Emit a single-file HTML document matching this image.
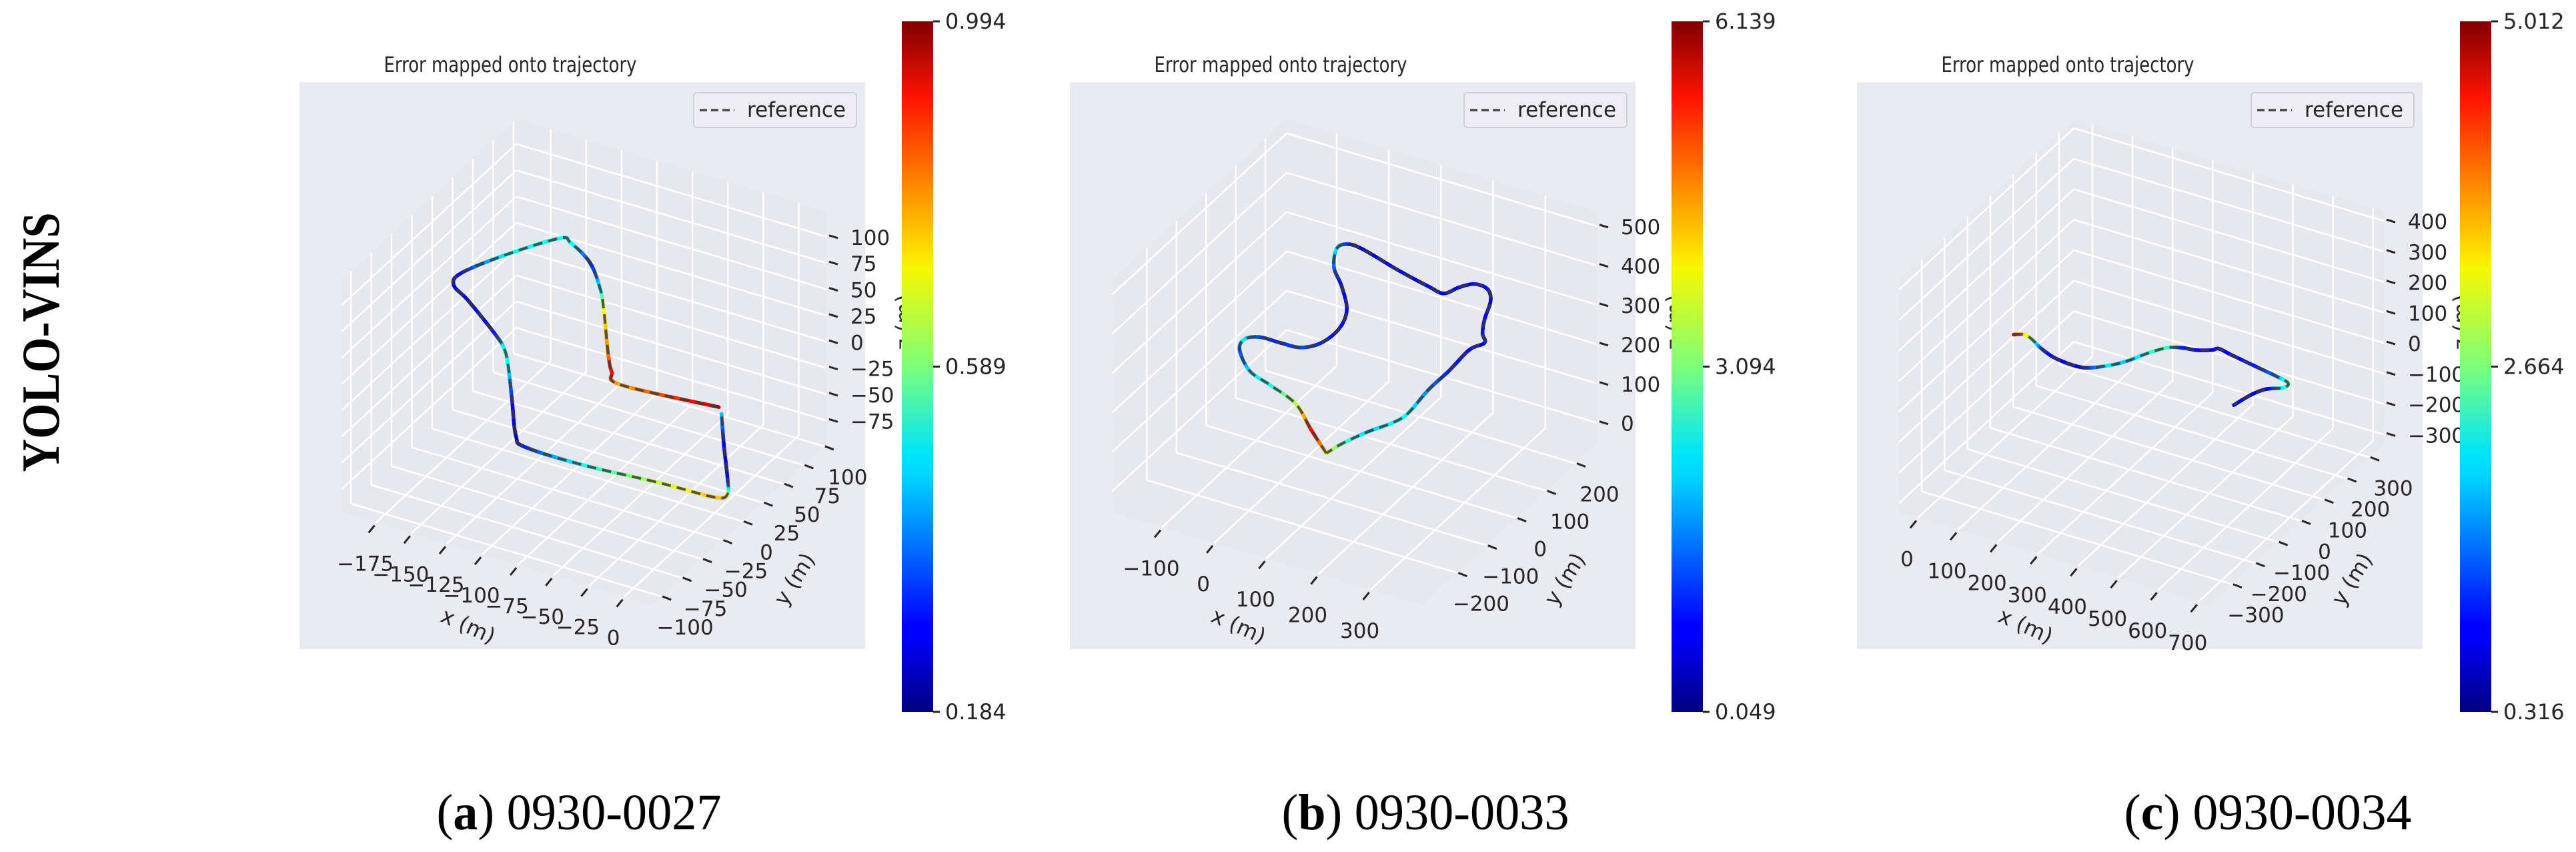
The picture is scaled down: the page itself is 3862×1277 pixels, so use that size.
<!DOCTYPE html>
<html><head><meta charset="utf-8"><style>
html,body{margin:0;padding:0;background:#fff;}
svg{display:block;}
text{font-family:"DejaVu Sans","Liberation Sans",sans-serif;}
</style></head><body>
<svg id="fig" xmlns="http://www.w3.org/2000/svg" width="3862" height="1277" viewBox="0 0 3862 1277">
<defs>
<linearGradient id="jetGrad" x1="0" y1="1" x2="0" y2="0">
<stop offset="0" stop-color="#00007f"/><stop offset="0.11" stop-color="#0000ff"/>
<stop offset="0.125" stop-color="#0000ff"/><stop offset="0.34" stop-color="#00d4ff"/>
<stop offset="0.375" stop-color="#00e5f7"/><stop offset="0.5" stop-color="#7dff7a"/>
<stop offset="0.64" stop-color="#f4f802"/><stop offset="0.66" stop-color="#ffe600"/>
<stop offset="0.89" stop-color="#ff1300"/><stop offset="1" stop-color="#7f0000"/>
</linearGradient>
</defs>
<text transform="translate(88,513) rotate(-90)" text-anchor="middle" font-weight="bold" font-size="80" textLength="389" lengthAdjust="spacingAndGlyphs" style="font-family:'Liberation Serif',serif">YOLO-VINS</text>
<text x="868" y="1243" text-anchor="middle" font-size="76" textLength="427" lengthAdjust="spacingAndGlyphs" style="font-family:'Liberation Serif',serif">(<tspan font-weight="bold">a</tspan>) 0930-0027</text>
<text x="2137" y="1243" text-anchor="middle" font-size="76" textLength="431" lengthAdjust="spacingAndGlyphs" style="font-family:'Liberation Serif',serif">(<tspan font-weight="bold">b</tspan>) 0930-0033</text>
<text x="3400" y="1243" text-anchor="middle" font-size="76" textLength="431" lengthAdjust="spacingAndGlyphs" style="font-family:'Liberation Serif',serif">(<tspan font-weight="bold">c</tspan>) 0930-0034</text>
</svg>
<script>
// ---------- data: panel a (0930-0027) ----------
const aXRange = [-199.3, 19.5];
const aYRange = [-111.6, 103.4];
const aZRange = [-97, 124];
const aXTicks = [-175, -150, -125, -100, -75, -50, -25, 0];
const aYTicks = [-100, -75, -50, -25, 0, 25, 50, 75, 100];
const aZTicks = [-75, -50, -25, 0, 25, 50, 75, 100];
const aTrajX = [-0.1,-64.9,-77.7,-91.3,-116.5,-131.3,-152.2,-174.1,-182.2,-200.5,-214.6,-212.0,-195.3,-161.8,-147.8,-135.4,-114.2,-91.6,-80.0,-39.2,11.9,49.8,54.6,45.6,24.4,5.2];
const aTrajY = [5.3,-1.8,8.7,27.8,66.9,88.2,111.9,126.2,127.5,96.5,63.4,48.5,37.2,11.7,-1.0,-17.8,-50.2,-84.8,-93.2,-93.8,-88.7,-86.6,-79.4,-63.8,-31.3,-0.7];
const aTrajZ = 0;
const aErr = [0.95,0.75,0.9,0.8,0.7,0.5,0.3,0.5,0.5,0.5,0.3,0.25,0.25,0.3,0.5,0.5,0.3,0.22,0.3,0.5,0.65,0.75,0.7,0.3,0.25,0.45];
const aCbar = [0.184, 0.589, 0.994];
const aCbarLabels = ["0.184", "0.589", "0.994"];

// ---------- data: panel b (0930-0033) ----------
const bXRange = [-196, 399];
const bYRange = [-318, 272];
const bZRange = [-53, 537];
const bXTicks = [-100, 0, 100, 200, 300];
const bYTicks = [-200, -100, 0, 100, 200];
const bZTicks = [0, 100, 200, 300, 400, 500];
const bTrajX = [54.7,-4.3,-67.1,-133.6,-185.3,-233.2,-242.8,-223.5,-185.1,-148.1,-125.9,-122.1,-140.5,-184.7,-225.3,-251.1,-243.7,-214.2,-129.2,-59.0,-25.8,-13.2,3.9,29.8,53.3,74.0,93.1,110.8,99.7,103.2,103.1,110.4,102.9,80.6,62.2,54.7];
const bTrajY = [-35.2,17.1,75.8,106.6,128.6,178.6,212.6,230.5,231.7,235.6,265.4,319.1,377.3,438.0,483.5,537.5,558.9,558.5,529.7,509.6,502.7,532.3,554.0,551.5,522.1,465.1,424.5,400.2,368.2,292.9,224.2,142.5,103.9,56.9,3.4,-35.2];
const bTrajZ = 0;
const bErr = [3.8,5.5,3.5,2.5,2.2,1.2,2.3,1.2,1.0,1.3,1.0,0.8,0.8,0.7,1.3,2.2,1.2,0.6,0.7,0.6,0.8,0.7,0.9,0.8,0.7,0.8,0.9,0.7,0.8,0.9,1.5,2.3,2.4,2.0,2.8,3.8];
const bCbar = [0.049, 3.094, 6.139];
const bCbarLabels = ["0.049", "3.094", "6.139"];

// ---------- data: panel c (0930-0034) ----------
const cXRange = [-46.5, 727];
const cYRange = [-399, 364];
const cZRange = [-330, 431];
const cXTicks = [0, 100, 200, 300, 400, 500, 600, 700];
const cYTicks = [-300, -200, -100, 0, 100, 200, 300];
const cZTicks = [-300, -200, -100, 0, 100, 200, 300, 400];
const cTrajX = [12.2,30.8,52.4,99.7,146.9,209.8,252.6,280.3,302.2,328.0,356.0,388.7,416.7,427.8,463.6,534.2,590.6,628.3,628.6,598.9,582.4,570.9];
const cTrajY = [-1.3,9.2,3.7,-25.1,-42.7,-44.9,-11.8,26.1,74.1,115.3,131.1,138.5,154.4,167.4,158.8,143.2,130.8,118.8,96.7,73.2,37.3,-18.1];
const cTrajZ = 0;
const cErr = [4.7,3.5,3.0,1.0,0.9,0.8,2.0,1.8,2.2,2.5,1.0,0.9,0.8,0.8,0.9,1.0,1.5,2.5,2.3,0.8,0.7,0.7];
const cCbar = [0.316, 2.664, 5.012];
const cCbarLabels = ["0.316", "2.664", "5.012"];

const NS = "http://www.w3.org/2000/svg";
const svg = document.getElementById("fig");
function mk(tag, attrs, parent) {
  const e = document.createElementNS(NS, tag);
  for (const k in attrs) e.setAttribute(k, attrs[k]);
  (parent || svg).appendChild(e);
  return e;
}
function jet(t) {
  t = Math.max(0, Math.min(1, t));
  const f = v => Math.round(255 * Math.max(0, Math.min(1, v)));
  return `rgb(${f(1.5 - Math.abs(4 * t - 3))},${f(1.5 - Math.abs(4 * t - 2))},${f(1.5 - Math.abs(4 * t - 1))})`;
}
function fmt(v) { return (v < 0 ? "\u2212" : "") + Math.abs(v); }

function drawPanel(key, ox, cbx, xr, yr, zr, xt, yt, zt, tx, ty, tz, errs, cb, cbl) {
  const g = mk("g", { transform: `translate(${ox},123)` });
  
  
  const L0 = [63, 645], VX = [465, 139], VY = [262, -242], H = 348;
  const P = (x, y, z) => {
    const a = (x - xr[0]) / (xr[1] - xr[0]), b = (y - yr[0]) / (yr[1] - yr[0]), c = (z - zr[0]) / (zr[1] - zr[0]);
    return [L0[0] + a * VX[0] + b * VY[0], L0[1] + a * VX[1] + b * VY[1] - c * H];
  };
  const bg = mk("rect", { x: 0, y: 0, width: 848, height: 850, fill: "#eaeaf2" }, g);
  
  
  const poly = (pts, name) => {
    const p = mk("polygon", { points: pts.map(q => q.join(",")).join(" "), fill: "#e3e3eb", "fill-opacity": 0.55 }, g);
    
    
  };
  const [x0, x1] = xr, [y0, y1] = yr, [z0, z1] = zr;
  poly([P(x0, y0, z0), P(x1, y0, z0), P(x1, y1, z0), P(x0, y1, z0)], "floor-pane");
  poly([P(x0, y0, z0), P(x0, y1, z0), P(x0, y1, z1), P(x0, y0, z1)], "left-pane");
  poly([P(x0, y1, z0), P(x1, y1, z0), P(x1, y1, z1), P(x0, y1, z1)], "back-pane");
  const line = (a, b, name, col, w) => {
    const l = mk("line", { x1: a[0], y1: a[1], x2: b[0], y2: b[1], stroke: col || "#fff", "stroke-width": w || 2.5 }, g);
    
    
  };
  xt.forEach(v => { line(P(v, y0, z0), P(v, y1, z0), "grid-x"); line(P(v, y1, z0), P(v, y1, z1), "grid-x"); });
  yt.forEach(v => { line(P(x0, v, z0), P(x1, v, z0), "grid-y"); line(P(x0, v, z0), P(x0, v, z1), "grid-y"); });
  zt.forEach(v => { line(P(x0, y0, v), P(x0, y1, v), "grid-z"); line(P(x0, y1, v), P(x1, y1, v), "grid-z"); });
  const label = (x, y, s, anchor, name) => {
    const t = mk("text", { x: x, y: y, "font-size": 31, fill: "#262626", "text-anchor": anchor, "dominant-baseline": "central" }, g);
    t.textContent = s;
    
    
  };
  xt.forEach(v => { const p = P(v, y0, z0); line([p[0] - 2, p[1] + 4], [p[0] - 11, p[1] + 15], "x-tick", "#262626", 3); label(p[0] - 16, p[1] + 62, fmt(v), "middle", "x-tick-label"); });
  yt.forEach(v => { const p = P(x1, v, z0); line([p[0] + 2, p[1]], [p[0] + 15, p[1] + 5], "y-tick", "#262626", 3); label(p[0] + 36, p[1] + 47, fmt(v), "middle", "y-tick-label"); });
  zt.forEach(v => { const p = P(x1, y1, v); line([p[0] + 4, p[1] - 2], [p[0] + 17, p[1] + 2], "z-tick", "#262626", 3); label(p[0] + 36, p[1] + 2, fmt(v), "start", "z-tick-label"); });
  const axl = (x, y, rot, s, name) => {
    const t = mk("text", { transform: `translate(${x},${y}) rotate(${rot})`, "font-size": 32, fill: "#262626", "text-anchor": "middle", "dominant-baseline": "central" }, g);
    t.textContent = s;
    
    
  };
  axl(253, 815, 24, "x (m)", "x-axis-title");
  axl(742, 745, -58, "y (m)", "y-axis-title");
  axl(906, 360, -90, "z (m)", "z-axis-title");
  const pts = tx.map((x, i) => P(x, ty[i], tz));
  const sm = [], se = [];
  for (let i = 0; i < pts.length - 1; i++) {
    const p0 = pts[Math.max(0, i - 1)], p1 = pts[i], p2 = pts[i + 1], p3 = pts[Math.min(pts.length - 1, i + 2)];
    for (let s = 0; s < 8; s++) {
      const t = s / 8, t2 = t * t, t3 = t2 * t;
      const c = k => 0.5 * (2 * p1[k] + (-p0[k] + p2[k]) * t + (2 * p0[k] - 5 * p1[k] + 4 * p2[k] - p3[k]) * t2 + (-p0[k] + 3 * p1[k] - 3 * p2[k] + p3[k]) * t3);
      sm.push([c(0), c(1)]);
      se.push(errs[i] + (errs[i + 1] - errs[i]) * t);
    }
  }
  sm.push(pts[pts.length - 1]); se.push(errs[errs.length - 1]);
  const tg = mk("g", {}, g);
  
  
  for (let i = 0; i < sm.length - 1; i++) {
    const e = (se[i] + se[i + 1]) / 2;
    const seg = mk("line", { x1: sm[i][0], y1: sm[i][1], x2: sm[i + 1][0], y2: sm[i + 1][1], stroke: jet((e - cb[0]) / (cb[2] - cb[0])), "stroke-width": 5.5, "stroke-linecap": "round" }, tg);
    
    
  }
  const ref = mk("polyline", { points: sm.map(q => q.join(",")).join(" "), fill: "none", stroke: "#3a3a3a", "stroke-opacity": 0.85, "stroke-width": 4, "stroke-dasharray": "14 9" }, g);
  
  
  const lg = mk("g", {}, g);
  
  
  mk("rect", { x: 591, y: 16, width: 244, height: 52, rx: 5, fill: "#ededf3", stroke: "#d0d0d8", "stroke-width": 2 }, lg);
  mk("line", { x1: 600, y1: 42, x2: 652, y2: 42, stroke: "#4a4a4a", "stroke-width": 3.5, "stroke-dasharray": "11 6" }, lg);
  const lt = mk("text", { x: 671, y: 42, "font-size": 31, fill: "#262626", "dominant-baseline": "central" }, lg);
  lt.textContent = "reference";
  
  
  const tt = mk("text", { x: 316, y: -15, "font-size": 32, fill: "#262626", "text-anchor": "middle", textLength: 379, lengthAdjust: "spacingAndGlyphs" }, g);
  tt.textContent = "Error mapped onto trajectory";
  
  
  const cg = mk("g", {});
  
  
  const top = 32, bot = 1067;
  mk("rect", { x: cbx, y: top, width: 47, height: bot - top, fill: "url(#jetGrad)" }, cg);
  cb.forEach((v, i) => {
    const y = bot - (v - cb[0]) / (cb[2] - cb[0]) * (bot - top);
    mk("line", { x1: cbx + 47, y1: y, x2: cbx + 57, y2: y, stroke: "#262626", "stroke-width": 3 }, cg);
    const t = mk("text", { x: cbx + 65, y: y, "font-size": 32, fill: "#262626", "dominant-baseline": "central" }, cg);
    t.textContent = cbl[i];
    
    
  });
}
drawPanel("a", 449, 1352, aXRange, aYRange, aZRange, aXTicks, aYTicks, aZTicks, aTrajX, aTrajY, aTrajZ, aErr, aCbar, aCbarLabels);
drawPanel("b", 1604, 2506, bXRange, bYRange, bZRange, bXTicks, bYTicks, bZTicks, bTrajX, bTrajY, bTrajZ, bErr, bCbar, bCbarLabels);
drawPanel("c", 2784, 3688, cXRange, cYRange, cZRange, cXTicks, cYTicks, cZTicks, cTrajX, cTrajY, cTrajZ, cErr, cCbar, cCbarLabels);
</script>
</body></html>
